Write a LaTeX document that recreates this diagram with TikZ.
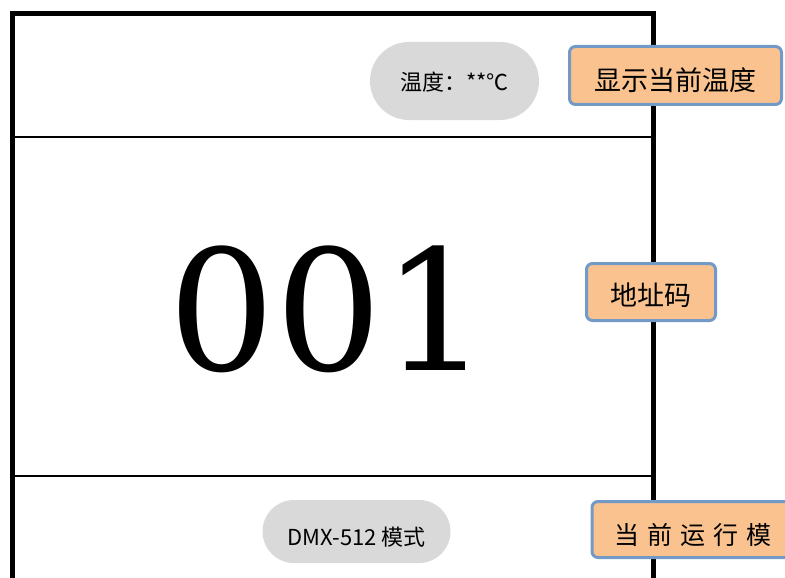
\documentclass[tikz,border=0pt]{standalone}
\usepackage{fontspec}
\newfontfamily\cjk{Noto Sans CJK SC}
\newfontfamily\digitfont{DejaVu Serif}
\usetikzlibrary{shapes.misc}
\definecolor{pillgray}{HTML}{D9D9D9}
\definecolor{boxorange}{HTML}{F9C28F}
\definecolor{boxblue}{HTML}{7399C6}
\newcommand{\lowtext}[2]{\raisebox{#1}[0pt][0pt]{#2}}
\begin{document}
\begin{tikzpicture}[x=1pt,y=-1pt,
  framepart/.style={line width=5pt,line join=miter},
  divider/.style={line width=2.5pt},
  pill/.style={rounded rectangle,fill=pillgray,inner sep=0pt,font=\cjk\fontsize{22}{22}\selectfont},
  notebox/.style={rectangle,rounded corners=6pt,draw=boxblue,line width=3pt,fill=boxorange,inner sep=0pt},
  bigtext/.style={font=\cjk\fontsize{27}{27}\selectfont}]
\useasboundingbox (0,0) rectangle (785,578);
% frame
\draw[framepart] (12.5,600) -- (12.5,13.5) -- (653.5,13.5) -- (653.5,600);
\draw[divider] (15,137) -- (651,137);
\draw[divider] (15,476) -- (651,476);
% pills
\node[pill,minimum width=169pt,minimum height=78pt] (temp) at (454.5,81) {\lowtext{-9.6pt}{温度：**℃}};
\node[pill,minimum width=188pt,minimum height=63pt] (mode) at (356.5,531.5) {\lowtext{-14pt}{DMX-512 模式}};
% address number
\node[anchor=base,inner sep=0pt,font=\digitfont\fontsize{168}{168}\selectfont] (addr) at (329,370) {001};
% orange notes
\node[notebox,bigtext,minimum width=212pt,minimum height=58pt] (n1) at (675.5,75.5) {\lowtext{-15.5pt}{显示当前温度}};
\node[notebox,bigtext,minimum width=129pt,minimum height=57pt] (n2) at (651,292) {\lowtext{-13pt}{地址码}};
\node[notebox,anchor=west,minimum height=56pt,inner xsep=22.5pt,text width=165pt,align=left,
  font=\cjk\fontsize{25}{25}\selectfont] (n3) at (590.5,529.5)
  {\lowtext{-14.7pt}{当\kern8pt 前\kern8pt 运\kern8pt 行\kern8pt 模}};
\end{tikzpicture}
\end{document}
